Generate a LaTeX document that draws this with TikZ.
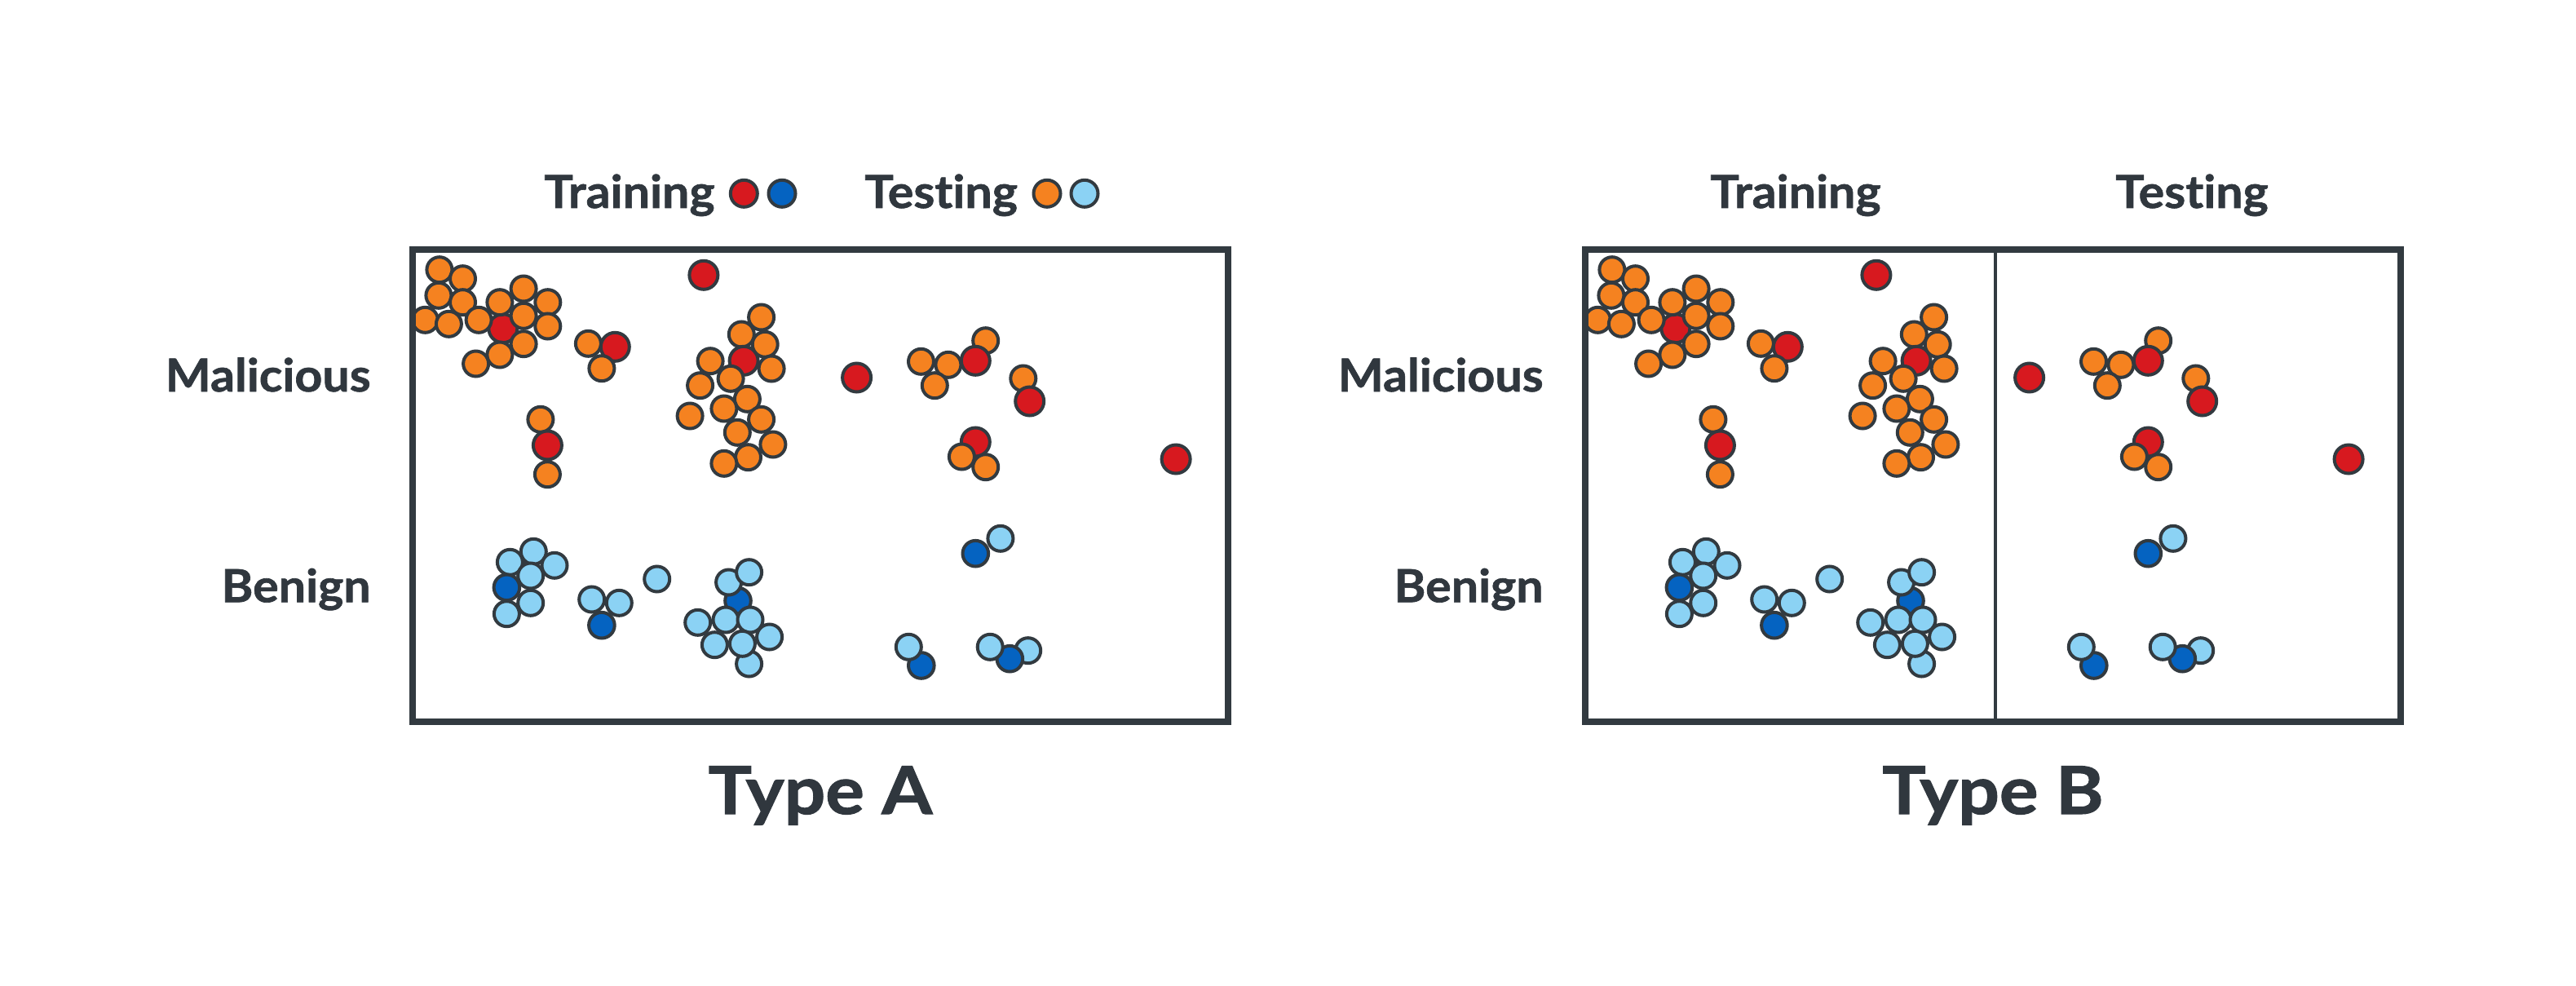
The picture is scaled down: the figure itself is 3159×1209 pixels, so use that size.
\documentclass[tikz,border=0pt]{standalone}
\usepackage{fontspec}
\setmainfont{Lato}
\newfontfamily\lblfont{Lato}[FakeStretch=1.06, FakeBold=1.2, Ligatures=NoCommon]
\newfontfamily\ttlfont{Lato}[FakeStretch=1.1, FakeBold=1.4, Ligatures=NoCommon]
\definecolor{txt}{HTML}{30373E}
\definecolor{edgec}{HTML}{323A40}
\definecolor{cred}{HTML}{D7191F}
\definecolor{cdblue}{HTML}{0563C1}
\definecolor{corange}{HTML}{F58220}
\definecolor{clblue}{HTML}{8BD2F4}
\tikzset{
  dotline/.style={draw=edgec, line width=2pt},
  lbl/.style={font=\lblfont\fontsize{27.9}{30}\selectfont\bfseries, text=txt, inner sep=0pt},
  ttl/.style={font=\ttlfont\fontsize{40.5}{44}\selectfont\bfseries, text=txt, inner sep=0pt},
  frame/.style={draw=edgec, line width=4pt},
  divider/.style={draw=edgec, line width=1.75pt},
}
\newcommand{\dotO}[2]{\filldraw[dotline, fill=corange] (#1,#2) circle[radius=7.75pt];}
\newcommand{\dotL}[2]{\filldraw[dotline, fill=clblue] (#1,#2) circle[radius=7.75pt];}
\newcommand{\dotR}[2]{\filldraw[dotline, fill=cred] (#1,#2) circle[radius=8.75pt];}
\newcommand{\dotD}[2]{\filldraw[dotline, fill=cdblue] (#1,#2) circle[radius=7.9pt];}
\newcommand{\typedots}{%
  % malicious, left cluster
  \dotR{616.8}{402.7}
  \dotO{538.9}{330.7}
  \dotO{567.5}{341.7}
  \dotO{537.9}{362.3}
  \dotO{567.5}{370.7}
  \dotO{521.4}{392.3}
  \dotO{550.4}{397.3}
  \dotO{587.1}{392.3}
  \dotO{612.9}{370.7}
  \dotO{642.1}{354}
  \dotO{671.8}{370.7}
  \dotO{642.1}{387.3}
  \dotO{671.8}{400}
  \dotO{642.1}{421.7}
  \dotO{612.9}{435}
  \dotO{583.6}{446}
  \dotO{721.4}{421.3}
  \dotR{754.3}{425.3}
  \dotO{737.9}{451.7}
  \dotR{862.9}{337.3}
  \dotO{662.9}{514.3}
  \dotO{671.4}{581.7}
  \dotR{671.4}{546}
  % malicious, middle cluster
  \dotO{933.6}{389}
  \dotO{909.3}{410}
  \dotR{912.1}{442.3}
  \dotO{938.2}{422.3}
  \dotO{946.1}{452}
  \dotO{871.1}{442.7}
  \dotO{896.1}{464.3}
  \dotO{858.6}{472.7}
  \dotO{916.4}{489.3}
  \dotO{887.9}{501}
  \dotO{846.1}{510}
  \dotO{933.6}{514.3}
  \dotO{904.3}{530.3}
  \dotO{947.9}{545}
  \dotO{917.5}{560.7}
  \dotO{887.9}{568.3}
  % malicious, right part
  \dotR{1050.6}{463}
  \dotO{1129.5}{443.3}
  \dotO{1162.9}{447.3}
  \dotO{1146.3}{472.7}
  \dotO{1208.7}{417.7}
  \dotR{1196.3}{442.3}
  \dotO{1254.8}{464}
  \dotR{1262.7}{492}
  \dotR{1196.3}{542}
  \dotO{1179.4}{560}
  \dotO{1208.7}{572.7}
  \dotR{1442.1}{563}
  % benign
  \dotL{625.4}{689.3}
  \dotL{654.3}{676.3}
  \dotL{680}{693.3}
  \dotL{650.7}{706}
  \dotD{621.4}{720.3}
  \dotL{650.7}{739.3}
  \dotL{621.4}{752.7}
  \dotL{725.7}{735}
  \dotL{759.3}{739.3}
  \dotD{737.9}{766.7}
  \dotL{805.7}{710}
  \dotD{905}{736.7}
  \dotL{893.6}{714}
  \dotL{918.6}{701.7}
  \dotL{918.6}{814}
  \dotL{855.7}{763.3}
  \dotL{890}{760}
  \dotL{920}{760}
  \dotL{943.6}{781}
  \dotL{876.4}{790.7}
  \dotL{910.4}{789.3}
  \dotD{1196.3}{678.7}
  \dotL{1226.9}{660.3}
  \dotD{1129.8}{816}
  \dotL{1114.3}{793.3}
  \dotL{1260.7}{797.7}
  \dotD{1238.3}{807.7}
  \dotL{1214.2}{793.3}
}
\begin{document}
\begin{tikzpicture}[x=0.5pt, y=-0.5pt]
\useasboundingbox (0,0) rectangle (3159,1209);

% ---------- Type A ----------
\node[lbl, anchor=base west] (legtrain) at (667,255) {Training};
\filldraw[dotline, fill=cred] (912.3,237.3) circle[radius=8.25pt];
\filldraw[dotline, fill=cdblue] (959,237.3) circle[radius=8.25pt];
\node[lbl, anchor=base west] (legtest) at (1060,255) {Testing};
\filldraw[dotline, fill=corange] (1284,237.3) circle[radius=8.25pt];
\filldraw[dotline, fill=clblue] (1330,237.3) circle[radius=8.25pt];

\node[lbl, anchor=base east] (malA) at (455,480) {Malicious};
\node[lbl, anchor=base east] (benA) at (455,738.3) {Benign};

\typedots
\draw[frame] (506,306) rectangle (1506,885);
\node[ttl, anchor=base] (typeA) at (1006,998) {Type A};

% ---------- Type B ----------
\begin{scope}[xshift=719pt]
  \typedots
\end{scope}
\node[lbl, anchor=base] (trainB) at (2202,255) {Training};
\node[lbl, anchor=base] (testB) at (2688,255) {Testing};
\node[lbl, anchor=base east] (malB) at (1893,480) {Malicious};
\node[lbl, anchor=base east] (benB) at (1893,738.3) {Benign};
\draw[divider] (2447,306) -- (2447,885);
\draw[frame] (1944,306) rectangle (2944,885);
\node[ttl, anchor=base] (typeB) at (2444,998) {Type B};
\end{tikzpicture}
\end{document}
